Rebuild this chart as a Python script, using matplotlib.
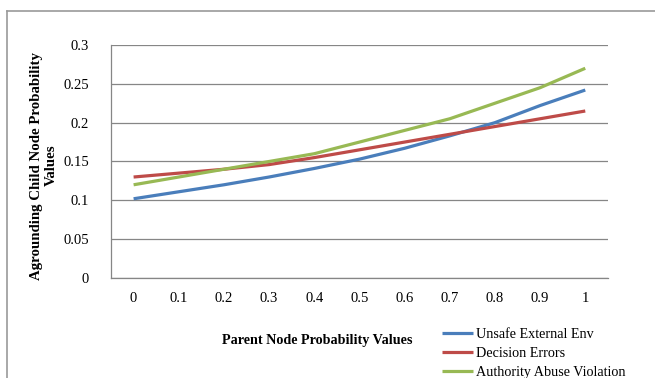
import matplotlib.pyplot as plt
from matplotlib.lines import Line2D

plt.rcParams['font.family'] = ['Liberation Serif', 'DejaVu Serif']

# parent node probability (category axis)
parent_probs = ['0', '0.1', '0.2', '0.3', '0.4', '0.5', '0.6', '0.7', '0.8', '0.9', '1']

unsafe_external_env = [0.102, 0.111, 0.120, 0.130, 0.141, 0.153, 0.167, 0.183, 0.200, 0.222, 0.242]
decision_errors = [0.130, 0.135, 0.140, 0.146, 0.155, 0.165, 0.175, 0.185, 0.195, 0.205, 0.215]
authority_abuse = [0.120, 0.130, 0.140, 0.150, 0.160, 0.175, 0.190, 0.205, 0.225, 0.245, 0.270]

series_names = ['Unsafe External Env', 'Decision Errors', 'Authority Abuse Violation']
series_colors = ['#4A7EBB', '#BE4B48', '#98B954']

y_ticks = [0, 0.05, 0.1, 0.15, 0.2, 0.25, 0.3]
y_tick_labels = ['0', '0.05', '0.1', '0.15', '0.2', '0.25', '0.3']

fig = plt.figure(figsize=(6.55, 3.78), dpi=100)
ax = fig.add_axes([0.1695, 0.2646, 0.7585, 0.6164])

x = range(len(parent_probs))
handles = []
for vals, name, col in zip([unsafe_external_env, decision_errors, authority_abuse],
                           series_names, series_colors):
    h, = ax.plot(x, vals, color=col, lw=2.3, label=name, solid_capstyle='butt')
    handles.append(h)

ax.set_xlim(-0.5, len(parent_probs) - 0.5)
ax.set_ylim(0, 0.3)
ax.set_xticks(list(x))
ax.set_xticklabels(parent_probs)
ax.set_yticks(y_ticks)
ax.set_yticklabels(y_tick_labels)
ax.tick_params(length=0, labelsize=10.5)
ax.tick_params(axis='y', pad=16)
ax.tick_params(axis='x', pad=10)
ax.yaxis.grid(True, color='#868686', lw=0.9)
ax.set_axisbelow(True)
for s in ['top', 'right']:
    ax.spines[s].set_visible(False)
for s in ['left', 'bottom']:
    ax.spines[s].set_color('#868686')
    ax.spines[s].set_linewidth(0.9)

fig.text(0.067, 0.562, 'Agrounding Child Node Probability\nValues', rotation=90,
         ha='center', va='center', fontsize=10.7, fontweight='bold', linespacing=1.15)
fig.text(0.484, 0.10, 'Parent Node Probability Values', ha='center', va='center',
         fontsize=10.2, fontweight='bold')

fig.legend(handles=handles, loc='upper left', bbox_to_anchor=(0.675, 0.132),
           frameon=False, fontsize=10.2, handlelength=2.2, handletextpad=0.2,
           labelspacing=0.42, borderaxespad=0, borderpad=0)

# outer chart frame (clipped at right and bottom)
fig.add_artist(Line2D([7 / 655, 7 / 655], [1 - 11 / 378, -0.1], color='#9a9a9a', lw=1.2))
fig.add_artist(Line2D([7 / 655, 1.1], [1 - 11 / 378, 1 - 11 / 378], color='#9a9a9a', lw=1.2))

fig.savefig('out.png', dpi=100)
